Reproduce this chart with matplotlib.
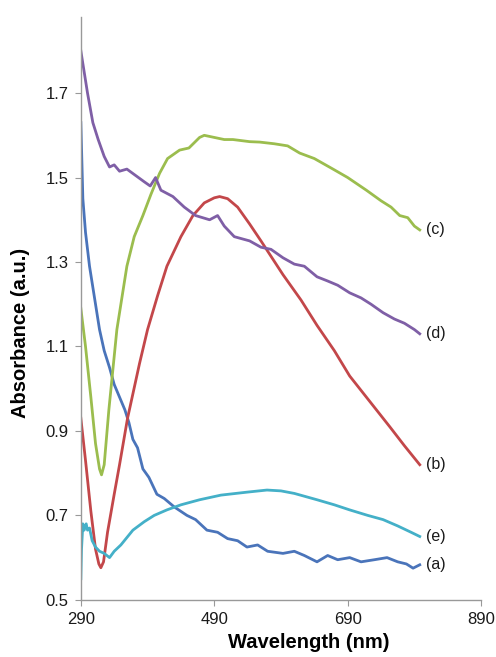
import matplotlib
matplotlib.use("Agg")
from matplotlib import pyplot as plt

plt.rcParams['font.family'] = ['Liberation Sans', 'DejaVu Sans']

# ---- data (wavelength nm, absorbance a.u.) ----
wl_a = [290, 293, 297, 303, 310, 318, 325, 333, 340, 348, 356, 362, 368, 375, 383,
        392, 404, 415, 430, 449, 462, 479, 495, 510, 525, 539, 555, 570, 593, 610,
        625, 644, 660, 675, 693, 710, 730, 749, 765, 778, 788, 798]
abs_a = [1.63, 1.45, 1.37, 1.29, 1.22, 1.14, 1.09, 1.05, 1.01, 0.98, 0.95, 0.92, 0.88,
         0.86, 0.81, 0.79, 0.75, 0.74, 0.72, 0.70, 0.69, 0.665, 0.66, 0.645, 0.64,
         0.625, 0.63, 0.615, 0.61, 0.615, 0.605, 0.59, 0.605, 0.595, 0.60, 0.59,
         0.595, 0.60, 0.59, 0.585, 0.575, 0.583]

wl_b = [290, 297, 305, 312, 317, 320, 324, 330, 340, 348, 360, 378, 390, 405, 419,
        440, 458, 475, 490, 498, 510, 525, 543, 560, 593, 620, 644, 670, 693, 723,
        753, 775, 798]
abs_b = [0.93, 0.83, 0.71, 0.62, 0.585, 0.576, 0.59, 0.66, 0.75, 0.82, 0.93, 1.06,
         1.14, 1.22, 1.29, 1.36, 1.41, 1.44, 1.452, 1.455, 1.45, 1.43, 1.39, 1.35,
         1.27, 1.21, 1.15, 1.09, 1.03, 0.97, 0.91, 0.865, 0.82]

wl_c = [290, 297, 305, 312, 318, 321, 325, 332, 344, 359, 370, 383, 395, 408, 420,
        438, 452, 468, 475, 490, 505, 518, 543, 558, 580, 600, 618, 640, 668, 690,
        718, 740, 755, 768, 780, 790, 798]
abs_c = [1.19, 1.10, 0.98, 0.87, 0.81, 0.796, 0.82, 0.95, 1.14, 1.29, 1.36, 1.41,
         1.46, 1.51, 1.545, 1.565, 1.57, 1.595, 1.60, 1.595, 1.59, 1.59, 1.585, 1.584,
         1.58, 1.575, 1.558, 1.545, 1.52, 1.50, 1.47, 1.445, 1.43, 1.41, 1.405, 1.385,
         1.376]

wl_d = [290, 294, 300, 308, 316, 325, 333, 340, 348, 359, 372, 385, 394, 402, 410,
        428, 445, 462, 483, 495, 505, 520, 543, 560, 575, 593, 610, 625, 644, 660,
        675, 693, 710, 725, 743, 760, 775, 790, 798]
abs_d = [1.80, 1.76, 1.70, 1.63, 1.59, 1.55, 1.525, 1.53, 1.515, 1.52, 1.505, 1.49,
         1.48, 1.50, 1.47, 1.455, 1.43, 1.41, 1.40, 1.41, 1.385, 1.36, 1.35, 1.335,
         1.33, 1.31, 1.295, 1.29, 1.265, 1.255, 1.245, 1.227, 1.215, 1.20, 1.18, 1.165,
         1.155, 1.14, 1.13]

wl_e = [290, 291, 293, 295, 298, 300, 303, 307, 312, 318, 325, 333, 340, 350, 368,
        385, 400, 419, 440, 468, 500, 539, 569, 590, 610, 644, 670, 693, 720, 743,
        765, 785, 798]
abs_e = [0.55, 0.62, 0.68, 0.665, 0.68, 0.665, 0.67, 0.64, 0.625, 0.615, 0.61, 0.60,
         0.615, 0.63, 0.665, 0.685, 0.70, 0.713, 0.725, 0.737, 0.748, 0.755, 0.76,
         0.758, 0.752, 0.737, 0.725, 0.713, 0.70, 0.69, 0.675, 0.66, 0.65]

series = [("(a)", wl_a, abs_a, "#4a74ba"),
          ("(b)", wl_b, abs_b, "#c3474a"),
          ("(c)", wl_c, abs_c, "#9bbd4e"),
          ("(d)", wl_d, abs_d, "#7f5fa6"),
          ("(e)", wl_e, abs_e, "#44b0c8")]

x_ticks = [290, 490, 690, 890]
y_ticks = [0.5, 0.7, 0.9, 1.1, 1.3, 1.5, 1.7]

fig = plt.figure(figsize=(4.96, 6.57), dpi=100)
ax = fig.add_axes([0.163, 0.087, 0.807, 0.887])

for label, wl, ab, col in series:
    ax.plot(wl, ab, color=col, lw=2.0, solid_joinstyle='round')
    ax.text(wl[-1] + 9, ab[-1], label, fontsize=11.5, va='center', ha='left',
            color='#1a1a1a')

ax.set_xlim(290, 890)
ax.set_ylim(0.5, 1.88)
ax.set_xticks(x_ticks)
ax.set_yticks(y_ticks)
ax.set_yticklabels([f"{v:.1f}" for v in y_ticks])

for s in ['top', 'right']:
    ax.spines[s].set_visible(False)
for s in ['left', 'bottom']:
    ax.spines[s].set_color('#999999')
    ax.spines[s].set_linewidth(1.0)
ax.tick_params(direction='out', length=4, color='#999999', labelsize=12,
               labelcolor='#1a1a1a', pad=5)

ax.set_xlabel("Wavelength (nm)", fontsize=14.5, fontweight='bold')
ax.set_ylabel("Absorbance (a.u.)", fontsize=14.5, fontweight='bold')
ax.xaxis.set_label_coords(0.57, -0.057)
ax.yaxis.set_label_coords(-0.128, 0.458)

fig.savefig("out.png", dpi=100)
